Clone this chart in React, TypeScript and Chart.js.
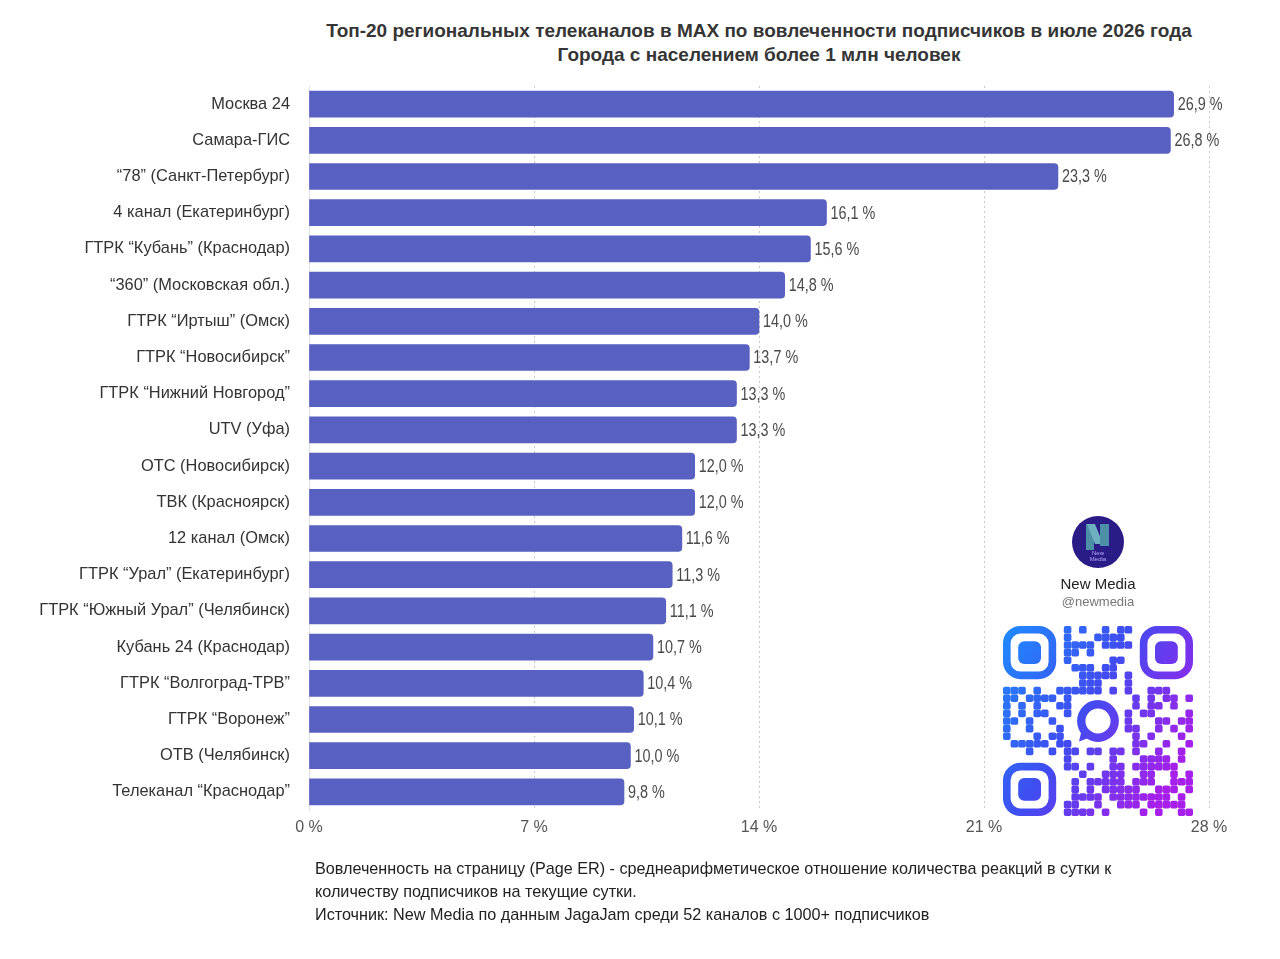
import React, { useEffect, useRef } from "react";
import { Chart, registerables } from "chart.js";

Chart.register(...registerables);

const categories = [
  "Москва 24",
  "Самара-ГИС",
  "“78” (Санкт-Петербург)",
  "4 канал (Екатеринбург)",
  "ГТРК “Кубань” (Краснодар)",
  "“360” (Московская обл.)",
  "ГТРК “Иртыш” (Омск)",
  "ГТРК “Новосибирск”",
  "ГТРК “Нижний Новгород”",
  "UTV (Уфа)",
  "ОТС (Новосибирск)",
  "ТВК (Красноярск)",
  "12 канал (Омск)",
  "ГТРК “Урал” (Екатеринбург)",
  "ГТРК “Южный Урал” (Челябинск)",
  "Кубань 24 (Краснодар)",
  "ГТРК “Волгоград-ТРВ”",
  "ГТРК “Воронеж”",
  "ОТВ (Челябинск)",
  "Телеканал “Краснодар”",
];

const values = [26.9, 26.8, 23.3, 16.1, 15.6, 14.8, 14.0, 13.7, 13.3, 13.3, 12.0, 12.0, 11.6, 11.3, 11.1, 10.7, 10.4, 10.1, 10.0, 9.8];

const xTicks = [0, 7, 14, 21, 28];

const titleLines = [
  "Топ-20 региональных телеканалов в MAX по вовлеченности подписчиков в июле 2026 года",
  "Города с населением более 1 млн человек",
];

const footnoteLines = [
  "Вовлеченность на страницу (Page ER) - среднеарифметическое отношение количества реакций в сутки к",
  "количеству подписчиков на текущие сутки.",
  "Источник: New Media по данным JagaJam среди 52 каналов с 1000+ подписчиков",
];

const FONT = "'Liberation Sans', Arial, Helvetica, sans-serif";
const BAR_COLOR = "#5861C1";

const fmt = (v: number) => v.toFixed(1).replace(".", ",") + " %";

const valueLabelPlugin = {
  id: "valueLabels",
  afterDatasetsDraw(chart: any) {
    const ctx = chart.ctx;
    const meta = chart.getDatasetMeta(0);
    const sx = 0.8;
    meta.data.forEach((bar: any, i: number) => {
      const p = bar.getProps(["x", "y"], true);
      ctx.save();
      ctx.font = "18px 'Liberation Sans', Arial, sans-serif";
      ctx.fillStyle = "#4a4a4a";
      ctx.textBaseline = "middle";
      ctx.textAlign = "left";
      ctx.translate(p.x + 4, p.y + 1);
      ctx.scale(sx, 1);
      ctx.fillText(fmt(values[i]), 0, 0);
      ctx.restore();
    });
  },
};

function QRCode() {
  const ref = useRef<HTMLCanvasElement | null>(null);
  useEffect(() => {
    const c = ref.current;
    if (!c) return;
    const ctx = c.getContext("2d")!;
    const S = 190;
    const N = 25;
    const m = S / N;
    ctx.clearRect(0, 0, S, S);
    const g = ctx.createLinearGradient(0, 0, S, S * 0.6);
    g.addColorStop(0, "#1E8BFF");
    g.addColorStop(0.5, "#3F4DF0");
    g.addColorStop(1, "#A61FEA");
    ctx.fillStyle = g;
    ctx.strokeStyle = g;
    const rr = (x: number, y: number, w: number, h: number, r: number) => {
      ctx.beginPath();
      ctx.roundRect(x, y, w, h, r);
      ctx.fill();
    };
    const finder = (cx: number, cy: number) => {
      ctx.lineWidth = m;
      ctx.beginPath();
      ctx.roundRect(cx * m + m / 2, cy * m + m / 2, 6 * m, 6 * m, m * 1.8);
      ctx.stroke();
      rr((cx + 2) * m, (cy + 2) * m, 3 * m, 3 * m, m * 0.8);
    };
    const inFinder = (r: number, cc: number) =>
      (r < 8 && cc < 8) || (r < 8 && cc > N - 9) || (r > N - 9 && cc < 8);
    const inCenter = (r: number, cc: number) => r >= 9 && r <= 15 && cc >= 9 && cc <= 15;
    for (let r = 0; r < N; r++) {
      for (let cc = 0; cc < N; cc++) {
        if (inFinder(r, cc) || inCenter(r, cc)) continue;
        const h = ((r * 73856093) ^ (cc * 19349663) ^ (r * cc * 83492791)) >>> 0;
        if (h % 100 < 55) rr(cc * m, r * m, m, m, m * 0.25);
      }
    }
    finder(0, 0);
    finder(N - 7, 0);
    finder(0, N - 7);
    ctx.lineWidth = m * 1.1;
    ctx.beginPath();
    ctx.arc(12.5 * m, 12.5 * m, 2.2 * m, 0, Math.PI * 2);
    ctx.stroke();
    ctx.beginPath();
    ctx.moveTo(10.4 * m, 13.5 * m);
    ctx.lineTo(10.0 * m, 15.2 * m);
    ctx.lineTo(11.6 * m, 14.6 * m);
    ctx.fill();
  }, []);
  return <canvas ref={ref} width={190} height={190} style={{ position: "absolute", left: 1003, top: 626, width: 190, height: 190 }} />;
}

export default function App() {
  const canvasRef = useRef<HTMLCanvasElement | null>(null);

  useEffect(() => {
    const canvas = canvasRef.current;
    if (!canvas) return;
    const chart = new Chart(canvas, {
      type: "bar",
      data: {
        labels: categories,
        datasets: [
          {
            data: values,
            backgroundColor: BAR_COLOR,
            borderRadius: { topLeft: 0, bottomLeft: 0, topRight: 4, bottomRight: 4 },
            borderSkipped: false,
            barThickness: 26,
          },
        ],
      },
      options: {
        indexAxis: "y",
        responsive: false,
        maintainAspectRatio: false,
        animation: false,
        layout: { padding: { top: 86, bottom: 109, left: 0, right: 71 } },
        plugins: {
          legend: { display: false },
          tooltip: { enabled: false },
          title: { display: false },
        },
        scales: {
          x: {
            type: "linear",
            min: 0,
            max: 28,
            afterBuildTicks: (scale: any) => {
              scale.ticks = xTicks.map((v) => ({ value: v }));
            },
            afterFit: (scale: any) => {
              scale.height = 40;
            },
            ticks: {
              padding: 8,
              color: "#555",
              font: { family: FONT, size: 16 },
              callback: (v: any) => v + " %",
              maxRotation: 0,
            },
            grid: {
              drawTicks: false,
              color: (ctx: any) => (ctx.tick && ctx.tick.value === 0 ? "rgba(0,0,0,0)" : "#c8c8c8"),
              lineWidth: 1,
            },
            border: { display: false, dash: [2, 3] },
          },
          y: {
            afterFit: (scale: any) => {
              scale.width = 309;
            },
            ticks: {
              padding: 19,
              color: "#333",
              font: { family: FONT, size: 16.4 },
              autoSkip: false,
            },
            grid: { display: false, drawTicks: false },
            border: { display: true, color: "#e2e2e2", width: 1 },
          },
        },
      } as any,
      plugins: [valueLabelPlugin],
    });
    return () => chart.destroy();
  }, []);

  return (
    <div style={{ position: "absolute", left: 0, top: 0, width: 1280, height: 959, background: "#fff", fontFamily: FONT, overflow: "hidden" }}>
      <div style={{ position: "absolute", left: 209, width: 1100, top: 19, textAlign: "center", fontWeight: "bold", fontSize: 19, lineHeight: "24px", color: "#353535" }}>
        {titleLines.map((t, i) => (
          <div key={i}>{t}</div>
        ))}
      </div>
      <canvas ref={canvasRef} width={1280} height={959} style={{ position: "absolute", left: 0, top: 0, width: 1280, height: 959 }} />
      <div style={{ position: "absolute", left: 1048, width: 100, top: 516, height: 100, textAlign: "center" }}>
        <div style={{ margin: "0 auto", width: 52, height: 52, borderRadius: 26, background: "#2A1C86", position: "relative", overflow: "hidden" }}>
          <div style={{ position: "absolute", left: 14, top: 8, width: 8, height: 26, background: "#4C8FA6" }} />
          <div style={{ position: "absolute", left: 19, top: 8, width: 8, height: 20, background: "#6FB0C0", transform: "skewX(22deg)" }} />
          <div style={{ position: "absolute", left: 28, top: 8, width: 9, height: 22, background: "#4C8FA6" }} />
          <div style={{ position: "absolute", left: 0, width: 52, top: 34, fontSize: 6, lineHeight: "6px", color: "#b9a8ff" }}>New<br />Media</div>
        </div>
        <div style={{ marginTop: 7, fontSize: 15, color: "#222" }}>New Media</div>
        <div style={{ marginTop: 2, fontSize: 13, color: "#777" }}>@newmedia</div>
      </div>
      <QRCode />
      <div style={{ position: "absolute", left: 315, top: 857, fontSize: 16.2, lineHeight: "23px", color: "#222" }}>
        {footnoteLines.map((t, i) => (
          <div key={i}>{t}</div>
        ))}
      </div>
    </div>
  );
}
